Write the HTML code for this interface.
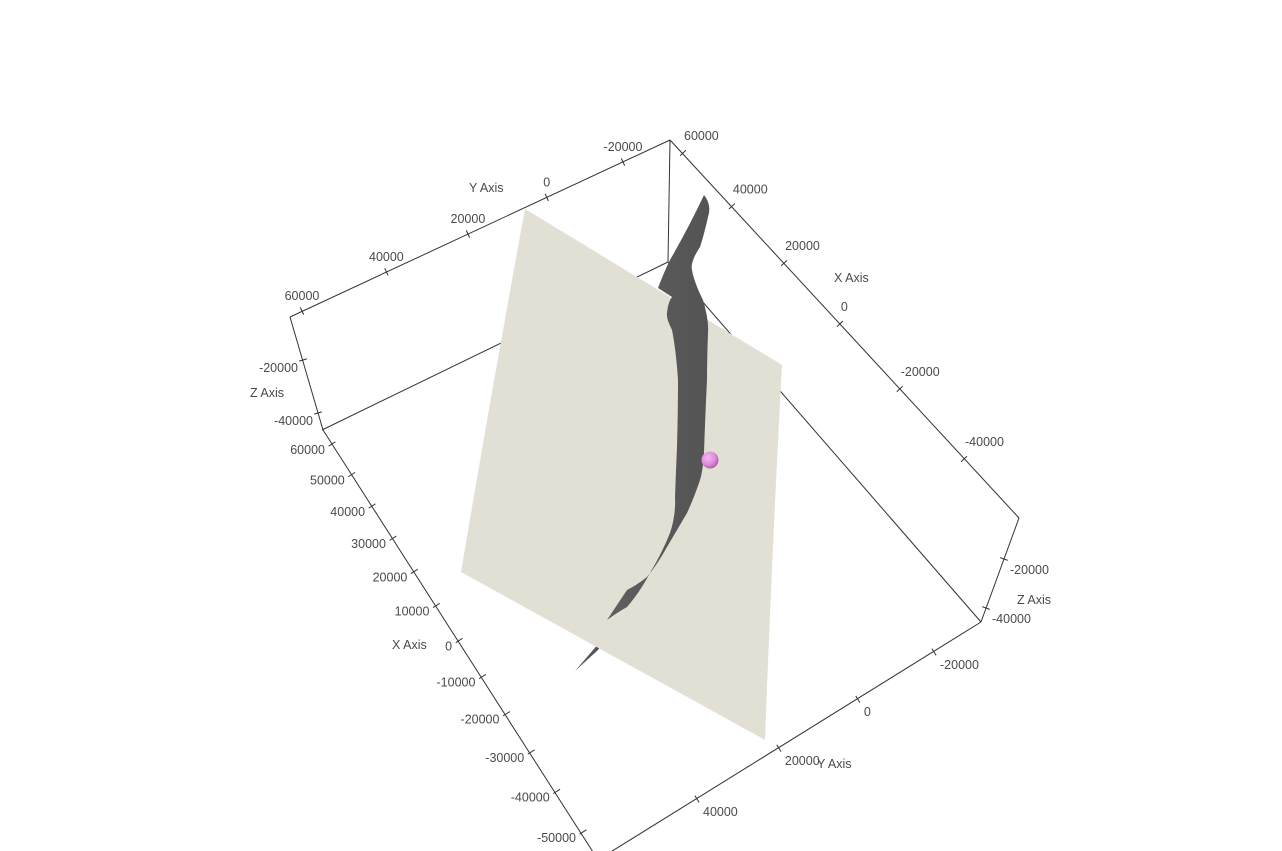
<!DOCTYPE html>
<html><head><meta charset="utf-8"><style>
html,body{margin:0;padding:0;background:#fff;}
svg{display:block;}
text{font-family:"Liberation Sans",sans-serif;font-size:12.5px;fill:#4a4a4a;}
</style></head><body>
<svg id="scene" width="1282" height="851" viewBox="0 0 1282 851" xmlns="http://www.w3.org/2000/svg">
<defs>
<radialGradient id="sph" cx="0.38" cy="0.35" r="0.7">
<stop offset="0" stop-color="#f4b6f0"/><stop offset="0.6" stop-color="#e08bdc"/><stop offset="1" stop-color="#a8589f"/>
</radialGradient>
<linearGradient id="flt" x1="0" y1="0" x2="1" y2="0">
<stop offset="0" stop-color="#5f5f5f"/><stop offset="1" stop-color="#545454"/>
</linearGradient>
</defs>
<g id="box" stroke="#333" stroke-width="1" fill="none">
<line x1="668" y1="262" x2="322" y2="430"/>
<line x1="668" y1="262" x2="981" y2="622"/>
<line x1="670" y1="140" x2="668" y2="262"/>
</g>
<polygon points="612,628 575,671 598,650 606,640" fill="#555"/>
<path d="M525,209 L782,365 Q772,550 765,740 L461,572 Q490,400 525,209 Z" fill="#e2dfd4"/>
<path d="M704,195 Q712,205 708,217 Q704,235 700,247 Q690,262 692,270 Q694,282 703,300 Q709,320 708,333 Q707,360 707,380 Q705,420 704,453 Q703,470 700,480 Q694,498 687,513 Q677,530 667,547 Q657,565 647,577 Q637,585 627,590 Q615,608 607,620 Q618,612 627,607 Q640,592 650,573 Q662,553 670,533 Q676,515 675,497 Q676,470 677,447 Q678,410 678,380 Q676,350 672,330 Q666,318 667,313 Q668,302 672,297 L658,288 Q664,272 670,260 Q690,225 704,195 Z" fill="url(#flt)"/>
<circle cx="710" cy="460" r="8.5" fill="url(#sph)"/>
<g id="outer" stroke="#333" stroke-width="1" fill="none">
<line x1="290" y1="317" x2="670" y2="140"/>
<line x1="670" y1="140" x2="1019" y2="518"/>
<line x1="1019" y1="518" x2="981" y2="622"/>
<line x1="981" y1="622" x2="609" y2="853"/>
<line x1="323" y1="430" x2="593" y2="852"/>
<line x1="290" y1="317" x2="323" y2="430"/>
</g>
<g id="axes"></g>
<text x="469" y="192">Y Axis</text>
<text x="250" y="397">Z Axis</text>
<text x="392" y="649">X Axis</text>
<text x="834" y="282">X Axis</text>
<text x="1017" y="604">Z Axis</text>
<text x="817" y="768">Y Axis</text>
</svg>
<script>
const xLeftTicks = [60000,50000,40000,30000,20000,10000,0,-10000,-20000,-30000,-40000,-50000];
const yTopTicks = [60000,40000,20000,0,-20000];
const xRightTicks = [60000,40000,20000,0,-20000,-40000];
const yBottomTicks = [40000,20000,0,-20000];
const zLeftTicks = [-20000,-40000];
const zRightTicks = [-20000,-40000];
const axes = [
 {name:'x-axis-left', ticks:xLeftTicks, v0:60000,p0:[332,444], v1:-50000,p1:[583,832], k:-0.145, anchor:'end', dx:-7, dy:10},
 {name:'y-axis-top', ticks:yTopTicks, v0:60000,p0:[302,311], v1:-20000,p1:[623,162], k:0.07, anchor:'middle', dx:0, dy:-11},
 {name:'x-axis-right', ticks:xRightTicks, v0:60000,p0:[683,153], v1:-40000,p1:[964,459], k:-0.157, anchor:'start', dx:1, dy:-13},
 {name:'y-axis-bottom', ticks:yBottomTicks, v0:40000,p0:[697,799], v1:-20000,p1:[934,652], k:0.056, anchor:'start', dx:6, dy:17},
 {name:'z-axis-left', ticks:zLeftTicks, v0:-20000,p0:[303,360], v1:-40000,p1:[318,413], k:0, anchor:'end', dx:-5, dy:12},
 {name:'z-axis-right', ticks:zRightTicks, v0:-20000,p0:[1004,559], v1:-40000,p1:[986,608], k:0, anchor:'start', dx:6, dy:15}
];
const NS='http://www.w3.org/2000/svg';
const g=document.getElementById('axes');
function proj(a,v){const t=(v-a.v0)/(a.v1-a.v0);const f=t*(1+a.k)/(1+a.k*t);return [a.p0[0]+f*(a.p1[0]-a.p0[0]),a.p0[1]+f*(a.p1[1]-a.p0[1])];}
axes.forEach(a=>{
 const dx=a.p1[0]-a.p0[0],dy=a.p1[1]-a.p0[1],L=Math.hypot(dx,dy);
 const nx=-dy/L*4,ny=dx/L*4;
 a.ticks.forEach(v=>{
  const p=proj(a,v);
  const ln=document.createElementNS(NS,'line');
  
  
  ln.setAttribute('x1',p[0]-nx);ln.setAttribute('y1',p[1]-ny);
  ln.setAttribute('x2',p[0]+nx);ln.setAttribute('y2',p[1]+ny);
  ln.setAttribute('stroke','#333');ln.setAttribute('stroke-width','1');
  g.appendChild(ln);
  const tx=document.createElementNS(NS,'text');
  
  
  tx.setAttribute('x',p[0]+a.dx);tx.setAttribute('y',p[1]+a.dy);
  tx.setAttribute('text-anchor',a.anchor);
  tx.textContent=String(v);
  g.appendChild(tx);
 });
});
</script>
</body></html>
